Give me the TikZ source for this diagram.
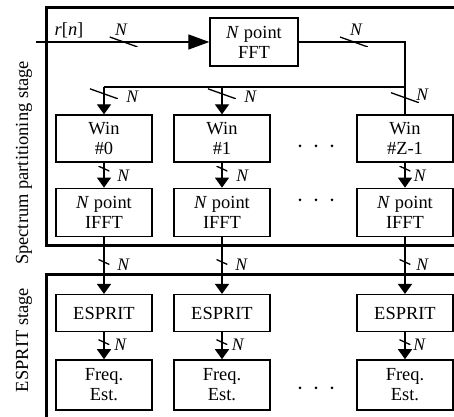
\documentclass[tikz,border=0pt]{standalone}
\usepackage{fontspec}
\setmainfont{Liberation Serif}
\usetikzlibrary{arrows.meta,positioning}
\tikzset{
  blockbox/.style={draw, line width=0.26mm, minimum width=19.2mm, minimum height=9.4mm,
    align=center, inner sep=1pt},
  stagebox/.style={draw, line width=0.6mm},
  stagelabel/.style={rotate=90},
  wire/.style={line width=0.26mm},
  flow/.style={wire, -{Triangle[length=2mm, width=2.8mm]}},
  bigflow/.style={wire, -{Triangle[length=4.2mm, width=3mm]}},
  bigtick/.style={minimum width=5.6mm, minimum height=2mm, inner sep=0pt,
    path picture={\draw[wire, -] (path picture bounding box.north west) -- (path picture bounding box.south east);}},
  smalltick/.style={bigtick, minimum width=2.2mm, minimum height=1mm},
  nlabel/.style={font=\itshape, inner sep=1pt, anchor=west},
  nabove/.style={font=\itshape, above}
}

\begin{document}
\begin{tikzpicture}[font=\fontsize{10.5pt}{11.4pt}\selectfont, node distance=5mm]
\useasboundingbox (0,0) rectangle (9.08,8.34);
\clip (0,0) rectangle (9.08,8.34);

% stages
\draw[stagebox] (0.94,8.18) rectangle (9.6,3.42);
\draw[stagebox] (0.94,2.84) rectangle (9.6,-0.5);
\node[stagelabel] (stage1) at (0.48,5.08) {Spectrum partitioning stage};
\node[stagelabel] (stage2) at (0.48,1.54) {ESPRIT stage};

% input and FFT
\coordinate (in) at (0.72,7.50);
\node (rn) at (1.38,7.74) {\textit{r}[\textit{n}]};
\node[blockbox, minimum width=17.6mm, minimum height=9.6mm] (fft) at (5.08,7.50) {\textit{N} point\\FFT};

% windows
\node[blockbox] (w0) at (2.08,5.57) {Win\\\#0};
\node[blockbox] (w1) at (4.44,5.57) {Win\\\#1};
\node[blockbox] (w2) at (8.10,5.57) {Win\\\#Z-1};

\node[blockbox, minimum height=9.6mm, below=of w0] (i0) {\textit{N} point\\IFFT};
\node[blockbox, minimum height=9.6mm, below=of w1] (i1) {\textit{N} point\\IFFT};
\node[blockbox, minimum height=9.6mm, below=of w2] (i2) {\textit{N} point\\IFFT};

\node[blockbox, minimum height=7.4mm, below=11.4mm of i0] (e0) {ESPRIT};
\node[blockbox, minimum height=7.4mm, below=11.4mm of i1] (e1) {ESPRIT};
\node[blockbox, minimum height=7.4mm, below=11.4mm of i2] (e2) {ESPRIT};

\node[blockbox, minimum height=10mm, below=5.4mm of e0] (f0) {Freq.\\Est.};
\node[blockbox, minimum height=10mm, below=5.4mm of e1] (f1) {Freq.\\Est.};
\node[blockbox, minimum height=10mm, below=5.4mm of e2] (f2) {Freq.\\Est.};

% dots
\coordinate (dw) at (6.32,5.42);
\coordinate (di) at (6.32,4.34);
\coordinate (df) at (6.32,0.58);
\fill (dw) circle (0.03) ++(-0.32,0) circle (0.03) ++(0.64,0) circle (0.03);
\fill (di) circle (0.03) ++(-0.32,0) circle (0.03) ++(0.64,0) circle (0.03);
\fill (df) circle (0.03) ++(-0.32,0) circle (0.03) ++(0.64,0) circle (0.03);

% bus
\coordinate (bus) at (8.10,6.60);
\coordinate (b0) at (w0.north |- bus);
\coordinate (b1) at (w1.north |- bus);
\draw[wire] (b0) -- (bus);

\draw[bigflow] (in) -- node[bigtick, pos=0.506] {} node[nabove, pos=0.49] {N} (fft);
\draw[wire] (fft) -| node[bigtick, pos=0.26] {} node[nabove, pos=0.27] {N}
  node[bigtick, pos=0.885] {} node[nlabel, pos=0.865, xshift=1.8mm] {N} (w2);
\draw[flow] (b0) -- node[bigtick, pos=0.25] {} node[nlabel, pos=0.36, xshift=4mm] {N} (w0);
\draw[flow] (b1) -- node[bigtick, pos=0.25] {} node[nlabel, pos=0.36, xshift=4mm] {N} (w1);

\draw[flow] (w0) -- node[smalltick, pos=0.24] {} node[nlabel, pos=0.52, xshift=2.2mm] {N} (i0);
\draw[flow] (w1) -- node[smalltick, pos=0.24] {} node[nlabel, pos=0.52, xshift=2.4mm] {N} (i1);
\draw[flow] (w2) -- node[smalltick, pos=0.24] {} node[nlabel, pos=0.52, xshift=1.3mm] {N} (i2);

\draw[flow] (i0) -- node[smalltick, pos=0.44] {} node[nlabel, pos=0.49, xshift=2.2mm] {N} (e0);
\draw[flow] (i1) -- node[smalltick, pos=0.44] {} node[nlabel, pos=0.49, xshift=2.2mm] {N} (e1);
\draw[flow] (i2) -- node[smalltick, pos=0.44] {} node[nlabel, pos=0.49, xshift=1.8mm] {N} (e2);

\draw[flow] (e0) -- node[smalltick, pos=0.37] {} node[nlabel, pos=0.48, xshift=1.6mm] {N} (f0);
\draw[flow] (e1) -- node[smalltick, pos=0.37] {} node[nlabel, pos=0.48, xshift=1.5mm] {N} (f1);
\draw[flow] (e2) -- node[smalltick, pos=0.37] {} node[nlabel, pos=0.48, xshift=1.2mm] {N} (f2);
\end{tikzpicture}
\end{document}
